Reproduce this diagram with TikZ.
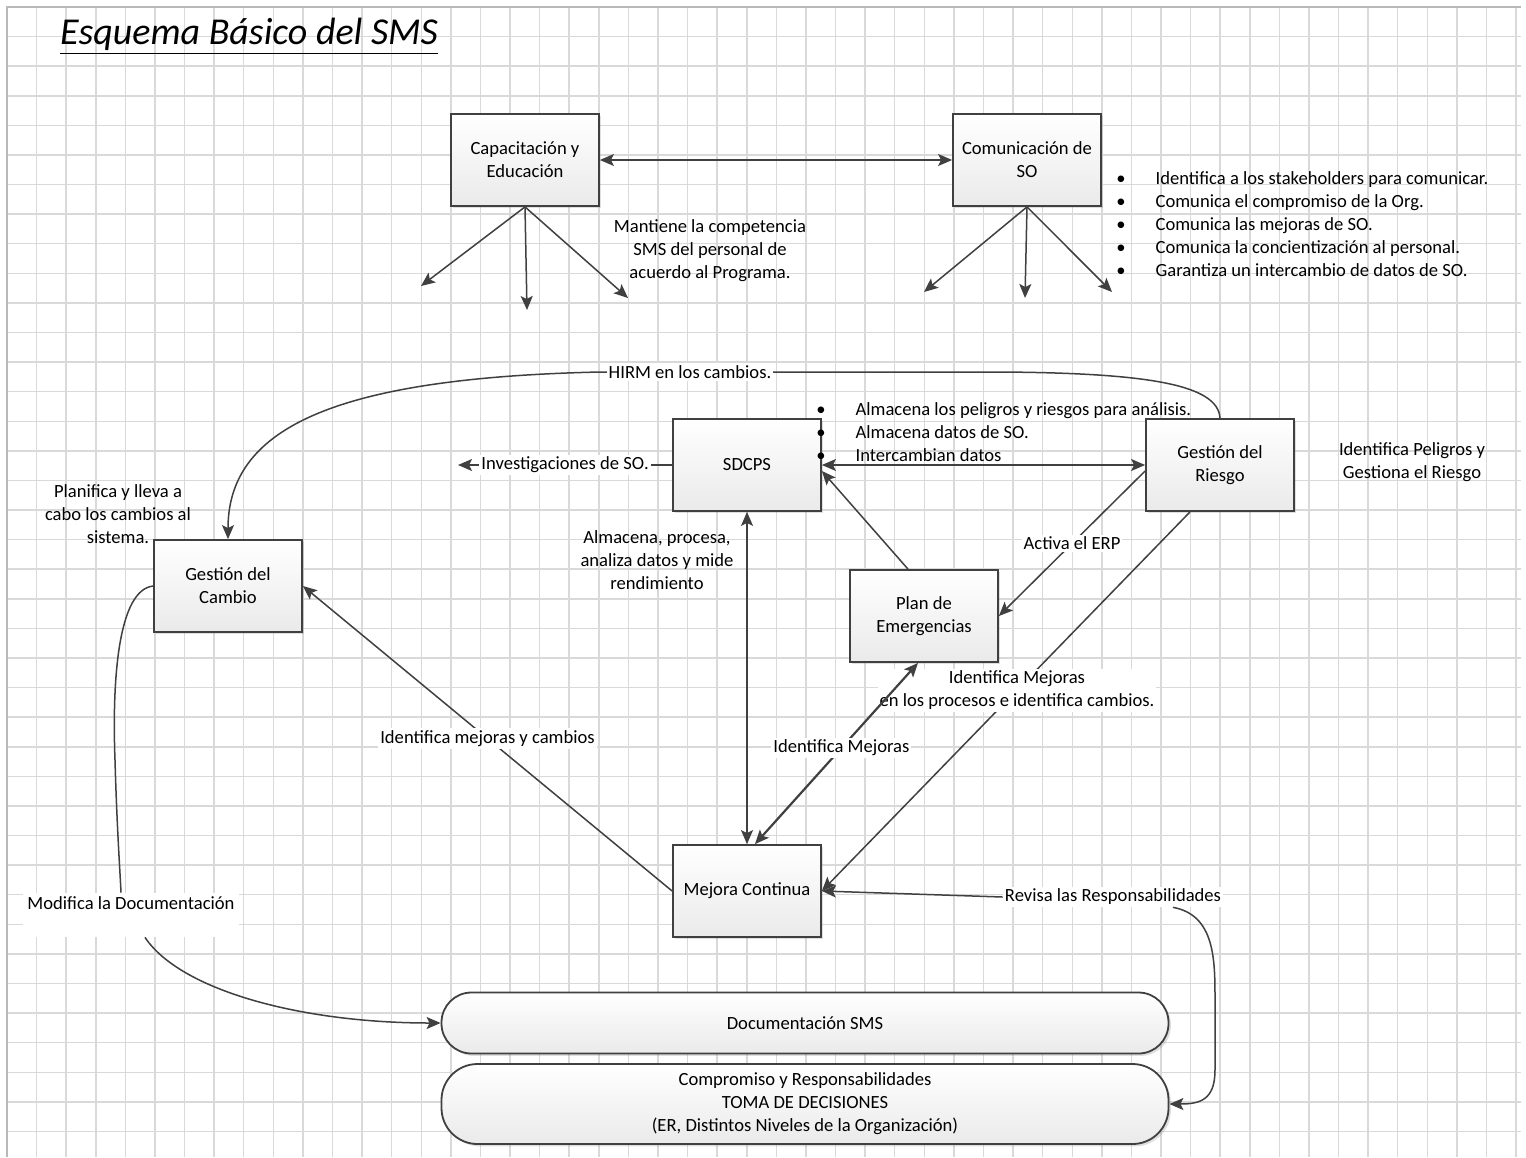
\documentclass[tikz,border=0pt]{standalone}
\usepackage{fontspec}
\setmainfont{Carlito}
\usetikzlibrary{arrows.meta, positioning, calc, shadows}
\definecolor{edgegray}{RGB}{64, 64, 64}
\definecolor{gridgray}{RGB}{217, 217, 217}
\definecolor{framegray}{RGB}{185, 185, 185}
\definecolor{shadegray}{RGB}{234, 234, 234}

\tikzset{
  box/.style={draw=edgegray, line width=0.9pt, top color=white, bottom color=shadegray, minimum width=74pt, minimum height=46pt, align=center, inner sep=2pt, drop shadow={shadow xshift=1.2pt, shadow yshift=-1.2pt, opacity=0.25}},
  pill/.style={box, minimum width=363.5pt, rounded corners=15pt},
  conn/.style={draw=edgegray, line width=0.75pt},
  arr/.style={conn, -{Stealth[length=7pt, width=6pt, inset=1.5pt]}},
  arrs/.style={conn, {Stealth[length=7pt, width=6pt, inset=1.5pt]}-{Stealth[length=7pt, width=6pt, inset=1.5pt]}},
  lbl/.style={fill=white, inner sep=1pt, align=center},
  note/.style={align=center, inner sep=0pt}
}

\begin{document}
\begin{tikzpicture}[x=0.5pt, y=-0.5pt, font=\fontsize{9.3}{11.5}\selectfont]
  \useasboundingbox (0,0) rectangle (1526,1157);

  % Grid paper
  \fill[white] (0,0) rectangle (1526,1157);
  \foreach \k in {0,...,51}
    \draw[gridgray, line width=0.75pt] ({7+29.59*\k},7) -- ({7+29.59*\k},1157);
  \foreach \k in {0,...,38}
    \draw[gridgray, line width=0.75pt] (7,{7+29.59*\k}) -- (1521,{7+29.59*\k});
  \draw[framegray, line width=1pt] (7,1157) -- (7,7) -- (1521,7);

  % Title
  \node[font=\fontsize{19}{22}\selectfont\itshape] (title) at (249,36) {\underline{Esquema Básico del SMS}};

  % Training and communication
  \node[box] (cap) at (525,160) {Capacitación y\\Educación};
  \node[box] (com) at (1027,160) {Comunicación de\\SO};
  \draw[arrs] (cap) -- (com);

  \coordinate (capA) at (421,286);
  \coordinate (capB) at (527,310);
  \coordinate (capC) at (628,298);
  \foreach \c in {capA, capB, capC}
    \draw[arr] (cap.south) -- (\c);

  \coordinate (comA) at (924,292);
  \coordinate (comB) at (1025,298);
  \coordinate (comC) at (1112,292);
  \foreach \c in {comA, comB, comC}
    \draw[arr] (com.south) -- (\c);

  \node[note] (mant) at (710,251) {Mantiene la competencia\\SMS del personal de\\acuerdo al Programa.};
  \node[anchor=west, inner sep=0pt] (combul) at (1116,226) {%
    \begin{tabular}{@{}l@{\hspace{15pt}}l@{}}
      \textbullet & Identifica a los stakeholders para comunicar.\\
      \textbullet & Comunica el compromiso de la Org.\\
      \textbullet & Comunica las mejoras de SO.\\
      \textbullet & Comunica la concientización al personal.\\
      \textbullet & Garantiza un intercambio de datos de SO.
    \end{tabular}};

  % Core boxes
  \node[box] (sdc) at (747,465) {SDCPS};
  \node[box] (rie) at (1220,465) {Gestión del\\Riesgo};
  \node[box] (cam) at (228,586) {Gestión del\\Cambio};
  \node[box] (plan) at (924,616) {Plan de\\Emergencias};
  \node[box] (mej) at (747,891) {Mejora Continua};

  % Base of the system
  \node[pill, minimum height=30.5pt] (doc) at (805,1023) {Documentación SMS};
  \node[pill, minimum height=40pt, rounded corners=18pt] (comp) at (805,1104) {Compromiso y Responsabilidades\\TOMA DE DECISIONES\\(ER, Distintos Niveles de la Organización)};

  % Side notes
  \node[note] (planif) at (118,514) {Planifica y lleva a\\cabo los cambios al\\sistema.};
  \node[note] (alm) at (657,560) {Almacena, procesa,\\analiza datos y mide\\rendimiento};
  \node[note] (idpel) at (1412,462) {Identifica Peligros y\\Gestiona el Riesgo};
  \node[anchor=west, inner sep=0pt] (sdcbul) at (816,434) {%
    \begin{tabular}{@{}l@{\hspace{15pt}}l@{}}
      \textbullet & Almacena los peligros y riesgos para análisis.\\
      \textbullet & Almacena datos de SO.\\
      \textbullet & Intercambian datos
    \end{tabular}};

  % HIRM loop
  \draw[arr] (rie.north) .. controls (1218,385) and (1150,373) .. (1000,372)
    -- node[lbl, pos=0.775] (hirm) {HIRM en los cambios.} (600,372)
    .. controls (330,378) and (228,430) .. (cam.north);

  % Connectors around SDCPS
  \coordinate (invend) at (458,465);
  \draw[arr] (sdc.west) -- node[lbl] (inv) {Investigaciones de SO.} (invend);
  \draw[arrs] (sdc.east) -- (rie.west);
  \draw[arr] ([xshift=-8pt]plan.north) -- ([yshift=-3pt]sdc.east);
  \draw[arr] ([yshift=-3pt]rie.west) -- node[lbl] (erp) {Activa el ERP} (plan.east);
  \draw[arrs] (sdc.south) -- (mej.north);

  % Connectors around Mejora Continua
  \draw[arr] ([xshift=-15pt]rie.south) -- node[lbl, pos=0.47] (idproc) {Identifica Mejoras\\en los procesos e identifica cambios.} (mej.east);
  \draw[arrs, line width=1.1pt] ([xshift=4pt]mej.north) -- node[lbl, pos=0.53] (idm) {Identifica Mejoras} ([xshift=-3pt]plan.south);
  \draw[arr] (mej.west) -- node[lbl] (idcam) {Identifica mejoras y cambios} (cam.east);

  % Documentation
  \node[lbl, inner sep=2pt] (mod) at (131,915) {Modifica la Documentación\\\mbox{}};
  \draw[conn] (cam.west) .. controls (118,590) and (112,680) .. (115,760)
    .. controls (117,830) and (120,870) .. ([xshift=-5pt]mod.north);
  \draw[arr] ([xshift=7pt]mod.south) .. controls (180,990) and (300,1023) .. (doc.west);

  % Responsibilities
  \node[lbl] (rev) at (1113,897) {Revisa las Responsabilidades};
  \draw[arr] (rev.west) -- (mej.east);
  \draw[arr] ([xshift=30pt]rev.south) .. controls (1215,915) and (1215,960) .. (1215,1000)
    -- (1215,1070) .. controls (1215,1100) and (1200,1104) .. (comp.east);
\end{tikzpicture}
\end{document}
